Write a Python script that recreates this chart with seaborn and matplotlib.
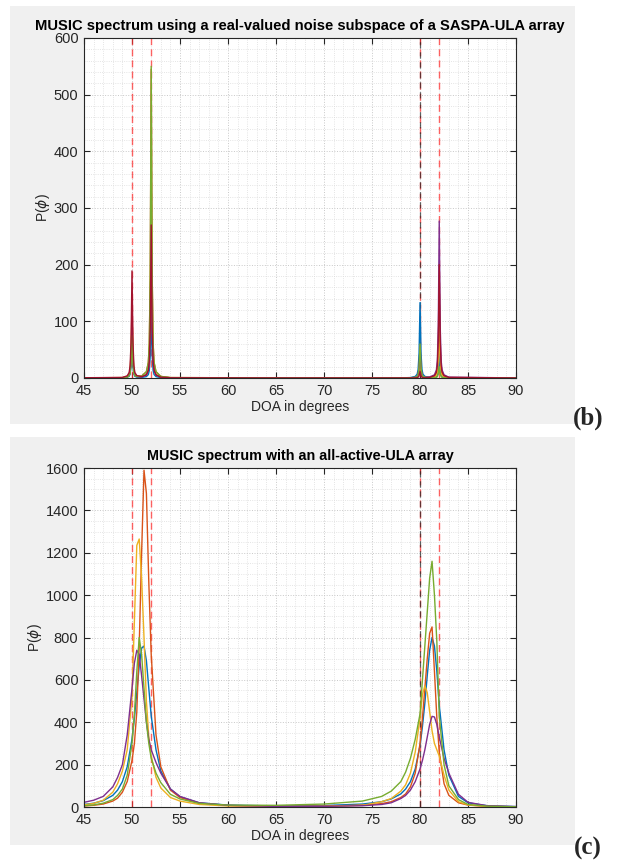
import numpy as np
import pandas as pd
import matplotlib
matplotlib.use('Agg')
import matplotlib.pyplot as plt
from matplotlib.patches import Rectangle
from matplotlib.ticker import MultipleLocator
import seaborn as sns

# MATLAB default line colours, in plotting order
colors = ['#0072BD', '#D95319', '#EDB120', '#7E2F8E', '#77AC30', '#A2142F']

# true source directions (dashed markers)
true_doa = [50, 52, 80, 82]
mark_doa = [80]

# ---- panel (b): real-valued noise subspace, SASPA-ULA ----
doa_b = [45, 49, 49.5, 49.7, 49.8, 49.9, 50, 50.1, 50.2, 50.3, 50.5, 51, 51.5, 51.7, 51.8,
         51.9, 52, 52.1, 52.2, 52.3, 52.5, 53, 54, 66, 78, 79, 79.5, 79.7, 79.8, 79.9, 80, 80.1,
         80.2, 80.3, 80.5, 81, 81.5, 81.7, 81.8, 81.9, 82, 82.1, 82.2, 82.3, 82.5, 83, 90]
b_run1 = [0.2, 0.3, 1.2, 3, 6.6, 20, 60, 20, 6.6, 3, 1.5, 0.9, 2.5, 6, 13, 40, 120, 40, 13, 6,
          2.4, 0.6, 0.2, 0.1, 0.2, 0.7, 2.7, 6.7, 15, 44, 133, 44, 15, 6.7, 2.8, 0.9, 1.2, 2.3,
          5, 15, 45, 15, 5, 2.3, 0.9, 0.2, 0.1]
b_run2 = [0.3, 0.7, 2.6, 6.5, 14, 43, 130, 43, 14, 7, 3.6, 3.4, 11, 27, 60, 180, 545, 180, 60,
          27, 11, 2.7, 0.7, 0.1, 0.1, 0.2, 0.8, 2, 4.4, 13, 40, 13, 4.4, 2, 1, 1, 3, 7.5, 16, 50,
          150, 50, 16, 7.5, 3, 0.8, 0.1]
b_run3 = [0.3, 0.6, 2.2, 5.5, 12, 36, 110, 36, 12, 5.5, 2.9, 2.2, 6.8, 16.5, 36, 109, 330, 109,
          36, 16.5, 6.6, 1.7, 0.4, 0.1, 0.1, 0.1, 0.5, 1.3, 2.8, 8, 25, 8, 2.8, 1.3, 0.6, 0.6,
          1.8, 4.5, 10, 30, 90, 30, 10, 4.5, 1.8, 0.5, 0.1]
b_run4 = [0.2, 0.5, 1.9, 4.8, 10, 31, 95, 31, 10, 4.8, 2.4, 1.8, 5.6, 13.5, 30, 89, 270, 89, 30,
          13.5, 5.4, 1.4, 0.4, 0.1, 0.1, 0.3, 1.1, 2.8, 6, 18, 55, 18, 6, 2.8, 1.4, 1.7, 5.6, 14,
          30, 91, 277, 91, 30, 14, 5.5, 1.4, 0.1]
b_run5 = [0.2, 0.4, 1.5, 3.8, 8, 25, 75, 25, 8, 3.8, 2.6, 3.1, 11, 27.5, 60, 182, 550, 182, 60,
          27.5, 11, 2.8, 0.7, 0.1, 0.1, 0.3, 1.2, 3, 6.6, 20, 60, 20, 6.6, 3, 1.2, 0.4, 0.4, 1,
          2.2, 6.6, 20, 6.6, 2.2, 1, 0.4, 0.1, 0.1]
b_run6 = [0.4, 0.9, 3.8, 9.5, 21, 62, 189, 62, 21, 9.5, 4.3, 2.3, 5.4, 13.5, 30, 89, 270, 89, 30,
          13.5, 5.4, 1.4, 0.4, 0.1, 0.1, 0.1, 0.2, 0.6, 1.3, 4, 12, 4, 1.3, 0.6, 0.3, 1, 4, 10,
          22, 66, 200, 66, 22, 10, 4, 1, 0.1]

# ---- panel (c): all-active ULA ----
doa_c = [45, 46, 47, 48, 48.5, 49, 49.5, 50, 50.25, 50.5, 50.75, 51, 51.25, 51.5, 51.75, 52,
         52.5, 53, 54, 55, 57, 60, 65, 70, 74, 76, 77, 78, 78.5, 79, 79.5, 80, 80.25, 80.5,
         80.75, 81, 81.25, 81.5, 81.75, 82, 82.5, 83, 84, 85, 87, 90]
c_run1 = [12, 18, 30, 55, 80, 120, 190, 320, 420, 540, 665, 750, 760, 690, 560, 430, 270, 170,
          85, 48, 20, 9, 5, 7, 14, 25, 38, 62, 85, 120, 180, 290, 380, 490, 620, 740, 800, 760,
          640, 480, 270, 150, 50, 20, 6, 2]
c_run2 = [5, 8, 14, 28, 42, 70, 120, 220, 300, 450, 760, 1200, 1590, 1480, 1060, 720, 340, 190,
          80, 45, 18, 7, 3, 4, 9, 16, 25, 45, 62, 95, 160, 300, 420, 560, 700, 820, 850, 640,
          420, 260, 110, 55, 20, 9, 3, 1]
c_run3 = [10, 17, 32, 70, 110, 170, 270, 520, 880, 1235, 1265, 1080, 800, 500, 330, 240, 140, 90,
          45, 28, 12, 5, 2, 3, 8, 25, 40, 75, 105, 160, 260, 420, 530, 572, 540, 450, 360, 300,
          270, 240, 150, 80, 25, 10, 3, 1]
c_run4 = [22, 32, 50, 95, 140, 200, 340, 560, 680, 740, 720, 620, 510, 400, 320, 270, 210, 160,
          85, 50, 20, 8, 3, 3, 6, 12, 20, 40, 55, 80, 120, 180, 220, 270, 330, 390, 428, 425,
          390, 330, 230, 160, 60, 22, 6, 2]
c_run5 = [6, 10, 18, 35, 55, 85, 150, 300, 440, 640, 800, 720, 560, 400, 300, 230, 160, 115, 60,
          38, 17, 9, 8, 14, 28, 50, 75, 120, 165, 230, 320, 440, 600, 760, 920, 1080, 1160, 1000,
          780, 430, 200, 100, 35, 12, 4, 1]

runs_b = [b_run1, b_run2, b_run3, b_run4, b_run5, b_run6]
runs_c = [c_run1, c_run2, c_run3, c_run4, c_run5]

df_b = pd.DataFrame({
    'doa': doa_b * len(runs_b),
    'p': np.concatenate(runs_b),
    'run': np.repeat(np.arange(len(runs_b)), len(doa_b)),
})
df_c = pd.DataFrame({
    'doa': doa_c * len(runs_c),
    'p': np.concatenate(runs_c),
    'run': np.repeat(np.arange(len(runs_c)), len(doa_c)),
})

sns.set_style('ticks')
plt.rcParams['font.family'] = ['Liberation Sans', 'DejaVu Sans']
plt.rcParams['mathtext.fontset'] = 'dejavusans'

fig = plt.figure(figsize=(6.19, 8.61), dpi=100)
fig.patch.set_facecolor('white')

# grey MATLAB figure backgrounds
fig.patches.append(Rectangle((0.0162, 0.5075), 0.9128, 0.4855, transform=fig.transFigure,
                             facecolor='#f0f0f0', edgecolor='none', zorder=-10))
fig.patches.append(Rectangle((0.0162, 0.0186), 0.9128, 0.4739, transform=fig.transFigure,
                             facecolor='#f0f0f0', edgecolor='none', zorder=-10))

ax_b = fig.add_axes([0.1357, 0.561, 0.698, 0.3949])
ax_c = fig.add_axes([0.1357, 0.0627, 0.698, 0.3937])

panels = [
    (ax_b, df_b, 6, 'MUSIC spectrum using a real-valued noise subspace of a SASPA-ULA array',
     600, 100, 20, 10.6),
    (ax_c, df_c, 5, 'MUSIC spectrum with an all-active-ULA array', 1600, 200, 50, 10.4),
]

for ax, df, n, title, ymax, ymaj, ymin, tsize in panels:
    ax.set_facecolor('white')
    sns.lineplot(data=df, x='doa', y='p', hue='run', palette=colors[:n], legend=False,
                 estimator=None, linewidth=1.0, ax=ax, zorder=3)
    for d in true_doa:
        ax.axvline(d, color='#ff3030', ls=(0, (5, 3)), lw=1.0, alpha=0.75, zorder=2)
    for d in mark_doa:
        ax.axvline(d, color='#202020', ls=(0, (5, 3)), lw=0.9, alpha=0.7, zorder=2)
    ax.set_xlim(45, 90)
    ax.set_ylim(0, ymax)
    ax.xaxis.set_major_locator(MultipleLocator(5))
    ax.xaxis.set_minor_locator(MultipleLocator(1))
    ax.yaxis.set_major_locator(MultipleLocator(ymaj))
    ax.yaxis.set_minor_locator(MultipleLocator(ymin))
    ax.grid(which='major', ls=':', color='#c8c8c8', lw=0.7)
    ax.grid(which='minor', ls=':', color='#dcdcdc', lw=0.6)
    ax.tick_params(which='major', direction='in', top=True, right=True, length=4,
                   width=0.8, color='#262626', labelsize=10.5, labelcolor='#262626', pad=4)
    ax.tick_params(which='minor', length=0)
    for s in ax.spines.values():
        s.set_color('#262626')
        s.set_linewidth(0.8)
        s.set_zorder(5)
    ax.set_xlabel('DOA in degrees', fontsize=10, color='#262626', labelpad=2)
    ax.set_ylabel(r'P($\phi$)', fontsize=10, color='#262626', labelpad=1)
    ax.set_title(title, fontsize=tsize, fontweight='bold', color='#000000', pad=6)

fig.text(0.950, 0.514, '(b)', fontsize=18, fontweight='bold', family='Liberation Serif',
         ha='center', va='center')
fig.text(0.950, 0.015, '(c)', fontsize=18, fontweight='bold', family='Liberation Serif',
         ha='center', va='center')

fig.savefig('out.png', dpi=100)
